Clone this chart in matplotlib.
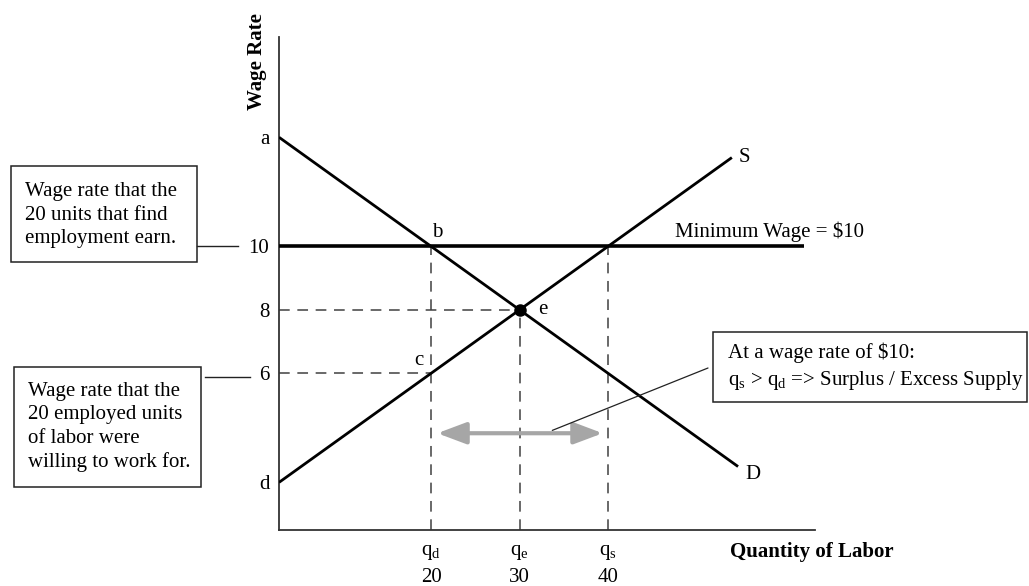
import matplotlib
matplotlib.use("Agg")
import matplotlib.pyplot as plt
from matplotlib.patches import Rectangle
from matplotlib.lines import Line2D
import matplotlib.transforms as mtransforms

plt.rcParams['font.family'] = ['Liberation Serif', 'DejaVu Serif']
plt.rcParams['mathtext.fontset'] = 'custom'
plt.rcParams['mathtext.rm'] = 'Liberation Serif'
plt.rcParams['mathtext.it'] = 'Liberation Serif:italic'

# ---- data ----
supply_q = [2.8, 54.0]
supply_w = [2.56, 12.8]
demand_q = [2.8, 54.7]
demand_w = [13.44, 3.06]
min_wage = 10
min_wage_q_end = 62.1
q_demanded = 20
q_equil = 30
q_supplied = 40
w_equil = 8
w_willing = 6
ytick_vals = [13.44, 10, 8, 6, 2.56]
ytick_labels = ['a', '10', '8', '6', 'd']
xtick_vals = [q_demanded, q_equil, q_supplied]
xtick_sym = [r'q$_\mathrm{d}$', r'q$_\mathrm{e}$', r'q$_\mathrm{s}$']
xtick_num = ['20', '30', '40']
arrow_w = 4.11
arrow_q = [20.7, 39.4]

W, H = 1029, 586
fig = plt.figure(figsize=(W / 100, H / 100), dpi=100)

def fx(x):
    return x / W

def fy(y):
    return 1 - y / H

ax = fig.add_axes([fx(279), fy(530), fx(815) - fx(279), fy(37) - fy(530)])
ax.set_xlim(2.8, 63.4)
ax.set_ylim(1.06, 16.6)
for s in ['top', 'right']:
    ax.spines[s].set_visible(False)
for s in ['left', 'bottom']:
    ax.spines[s].set_color('#333333')
    ax.spines[s].set_linewidth(1.3)
ax.set_xticks([])
ax.set_yticks(ytick_vals)
ax.set_yticklabels(ytick_labels, fontsize=15)
ax.tick_params(axis='y', length=0, pad=7)

dash_kw = dict(color='#404040', lw=1.1, dashes=(7, 5))
# dashed guides
ax.plot([2.8, q_equil], [w_equil, w_equil], **dash_kw)
ax.plot([2.8, q_demanded], [w_willing, w_willing], **dash_kw)
ax.plot([q_demanded, q_demanded], [1.06, min_wage], **dash_kw)
ax.plot([q_equil, q_equil], [1.06, w_equil], **dash_kw)
ax.plot([q_supplied, q_supplied], [1.06, min_wage], **dash_kw)

# curves
ax.plot(supply_q, supply_w, color='black', lw=2.0, solid_capstyle='butt', zorder=3)
ax.plot(demand_q, demand_w, color='black', lw=2.0, solid_capstyle='butt', zorder=3)
ax.plot([2.8, min_wage_q_end], [min_wage, min_wage], color='black', lw=2.6,
        solid_capstyle='butt', zorder=3)
ax.plot([q_equil], [w_equil], 'o', color='black', markersize=8, zorder=4)

# point labels
ax.text(q_demanded + 0.1, min_wage + 0.15, 'b', fontsize=15, ha='left', va='bottom')
ax.text(q_demanded - 0.9, 6.41, 'c', fontsize=15, ha='right', va='center')
ax.text(q_equil + 2.1, w_equil, 'e', fontsize=15, ha='left', va='center')
ax.text(supply_q[1] + 0.8, supply_w[1] + 0.0, 'S', fontsize=15, ha='left', va='center')
ax.text(demand_q[1] + 0.8, demand_w[1] - 0.25, 'D', fontsize=15, ha='left', va='center')
ax.text(47.6, min_wage + 0.15, 'Minimum Wage = $10', fontsize=15, ha='left', va='bottom')

# gray double arrow
ax.annotate('', xy=(arrow_q[1], arrow_w), xytext=(arrow_q[0], arrow_w),
            arrowprops=dict(arrowstyle='<|-|>,head_length=0.8,head_width=0.3',
                            color='#a6a6a6', lw=3,
                            mutation_scale=22, shrinkA=0, shrinkB=0), zorder=2)

# x tick labels (two rows)
trans = mtransforms.blended_transform_factory(ax.transData, fig.transFigure)
for q, s, n in zip(xtick_vals, xtick_sym, xtick_num):
    ax.text(q, fy(552), s, fontsize=15, ha='center', va='center', transform=trans)
    ax.text(q, fy(578), n, fontsize=15, ha='center', va='center', transform=trans)

# axis titles
fig.text(fx(730), fy(552), 'Quantity of Labor', fontsize=15, fontweight='bold',
         ha='left', va='center')
fig.text(fx(257), fy(62), 'Wage Rate', fontsize=15, fontweight='bold',
         ha='center', va='center', rotation=90)

# annotation boxes
def box(x0, y0, x1, y1):
    fig.patches.append(Rectangle((fx(x0), fy(y1)), fx(x1) - fx(x0), fy(y0) - fy(y1),
                                 transform=fig.transFigure, fill=False,
                                 edgecolor='#222222', lw=1.1))

def seg(x0, y0, x1, y1, lw=1.0):
    fig.lines.append(Line2D([fx(x0), fx(x1)], [fy(y0), fy(y1)],
                            transform=fig.transFigure, color='#222222', lw=lw))

box(11, 166, 197, 262)
fig.text(fx(25), fy(215), 'Wage rate that the\n20 units that find\nemployment earn.',
         fontsize=15, ha='left', va='center', linespacing=1.33)
seg(197, 246, 238, 246)

box(14, 367, 201, 487)
fig.text(fx(28), fy(427), 'Wage rate that the\n20 employed units\nof labor were\nwilling to work for.',
         fontsize=15, ha='left', va='center', linespacing=1.3)
seg(205, 377, 250, 377)

box(713, 332, 1027, 402)
fig.text(fx(728), fy(353), 'At a wage rate of $10:', fontsize=15, ha='left', va='center')
fig.text(fx(728), fy(381), r'q$_\mathrm{s}$ > q$_\mathrm{d}$ => Surplus / Excess Supply',
         fontsize=15, ha='left', va='center')

# pointer from arrow to box
ax.annotate('', xy=(fx(708), fy(368)), xycoords='figure fraction',
            xytext=(33.7, 4.2), textcoords='data',
            arrowprops=dict(arrowstyle='-', color='#222222', lw=0.9,
                            shrinkA=0, shrinkB=0))

fig.savefig('out.png', dpi=100)
